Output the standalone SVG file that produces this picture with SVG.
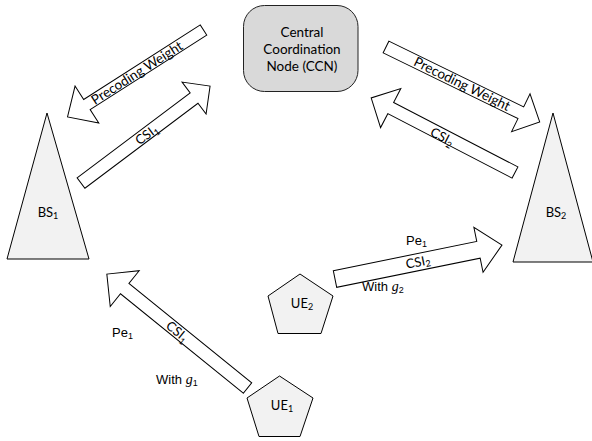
<svg xmlns="http://www.w3.org/2000/svg" width="592" height="441" viewBox="0 0 592 441">
<style>
.shape{fill:#f2f2f2;stroke:#000;stroke-width:1}
.ccn{fill:#d9d9d9;stroke:#222;stroke-width:1}
.arrow{fill:#fff;stroke:#000;stroke-width:1;stroke-linejoin:miter}
.cal{font-family:Lato,"Open Sans",sans-serif;fill:#000;text-anchor:middle}
.ar{font-family:"Liberation Sans",Arial,sans-serif;fill:#000;font-size:13px}
.sub{font-size:9px}
</style>
<rect width="592" height="441" fill="#fff"/>
<g id="connectors">
  <g id="arrow-pw1" transform="translate(203.5,30) rotate(147.4)">
    <path class="arrow" d="M0,-6 L138.4,-6 L138.4,-22 L161.4,0 L138.4,22 L138.4,6 L0,6 Z"/>
  </g>
  <g id="arrow-csi1-up" transform="translate(81,183) rotate(-36.9)">
    <path class="arrow" d="M0,-6.5 L141.4,-6.5 L141.4,-20 L161.4,0 L141.4,20 L141.4,6.5 L0,6.5 Z"/>
  </g>
  <g id="arrow-pw2" transform="translate(386,47) rotate(26)">
    <path class="arrow" d="M0,-6.5 L150,-6.5 L150,-21 L171,0 L150,21 L150,6.5 L0,6.5 Z"/>
  </g>
  <g id="arrow-csi2-up" transform="translate(515,172.5) rotate(207.4)">
    <path class="arrow" d="M0,-6.3 L140,-6.3 L140,-22 L162,0 L140,22 L140,6.3 L0,6.3 Z"/>
  </g>
  <g id="arrow-ue1" transform="translate(247.5,388) rotate(219)">
    <path class="arrow" d="M0,-6.7 L158,-6.7 L158,-23 L181,0 L158,23 L158,6.7 L0,6.7 Z"/>
  </g>
  <g id="arrow-ue2" transform="translate(335,279) rotate(-11.5)">
    <path class="arrow" d="M0,-8.5 L146.4,-8.5 L146.4,-23 L170.4,0 L146.4,23 L146.4,8.5 L0,8.5 Z"/>
  </g>
  <text class="cal" font-size="13.5" transform="translate(137,73) rotate(-32.6)" y="4.5">Precoding Weight</text>
  <text class="cal" font-size="13" transform="translate(147,135) rotate(-36.9)" y="4">CSI<tspan class="sub" dy="3">1</tspan></text>
  <text class="cal" font-size="13.5" transform="translate(462,84) rotate(26)" y="4.5">Precoding Weight</text>
  <text class="cal" font-size="13" transform="translate(442,137) rotate(27.4)" y="4">CSI<tspan class="sub" dy="3">2</tspan></text>
  <text class="cal" font-size="13" transform="translate(177,332) rotate(39)" y="4">CSI<tspan class="sub" dy="3">1</tspan></text>
  <text class="cal" font-size="13" transform="translate(418,262) rotate(-11.5)" y="4.5">CSI<tspan class="sub" dy="2">2</tspan></text>
  <text class="ar" x="112" y="337">Pe<tspan class="sub" dy="2">1</tspan></text>
  <text class="ar" x="156" y="384">With <tspan font-family="'Liberation Serif',serif" font-style="italic" font-size="14">g</tspan><tspan class="sub" dy="2">1</tspan></text>
  <text class="ar" x="406" y="245">Pe<tspan class="sub" dy="2">1</tspan></text>
  <text class="ar" x="362" y="291">With <tspan font-family="'Liberation Serif',serif" font-style="italic" font-size="14">g</tspan><tspan class="sub" dy="2">2</tspan></text>
</g>
<g id="ccn">
  <rect class="ccn" x="243.5" y="5.5" width="114.5" height="86" rx="21" ry="21"/>
  <text class="cal" font-size="13.5" x="302" y="37">Central</text>
  <text class="cal" font-size="13.5" x="302" y="54">Coordination</text>
  <text class="cal" font-size="13.5" x="302" y="70.5">Node (CCN)</text>
</g>
<g id="bs1">
  <polygon class="shape" points="47,113 7,259 89,259"/>
  <text class="cal" font-size="13" x="48" y="217">BS<tspan class="sub" dy="2">1</tspan></text>
</g>
<g id="bs2">
  <polygon class="shape" points="553,113 513,262 593,262"/>
  <text class="cal" font-size="13" x="556" y="217">BS<tspan class="sub" dy="2">2</tspan></text>
</g>
<g id="ue1">
  <polygon class="shape" points="279.5,376 313,398 300,436.5 259,436.5 247,398"/>
  <text class="cal" font-size="13" x="282" y="410">UE<tspan class="sub" dy="2">1</tspan></text>
</g>
<g id="ue2">
  <polygon class="shape" points="300,274 333,296 321,333.5 278,333.5 268,296"/>
  <text class="cal" font-size="13" x="302" y="308">UE<tspan class="sub" dy="2">2</tspan></text>
</g>
</svg>
